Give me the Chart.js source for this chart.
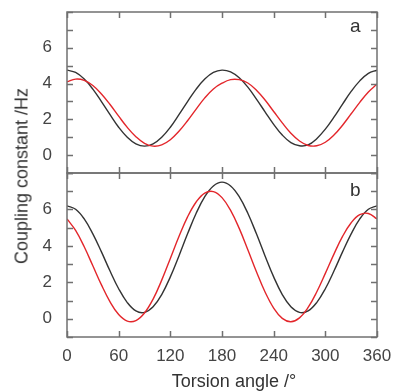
<!DOCTYPE html>
<html>
<head>
<meta charset="utf-8">
<script src="https://cdn.jsdelivr.net/npm/chart.js@4.4.1/dist/chart.umd.min.js"></script>
<style>
    body { margin: 0; background: #fff; }
    #wrap { position: relative; width: 393px; height: 392px; font-family: "Liberation Sans", Arial, sans-serif; }
    canvas { position: absolute; left: 0; }
    #chartA { top: 0; }
    #chartB { top: 160px; }
    .lbl { position: absolute; color: #333; font-size: 19px; line-height: 1; }
    #ytitle {
        position: absolute; left: 22px; top: 176px; color: #333; font-size: 18px;
        white-space: nowrap; transform: translate(-50%, -50%) rotate(-90deg);
    }
    #xtitle {
        position: absolute; left: 234px; top: 381px; color: #333; font-size: 18px;
        white-space: nowrap; transform: translate(-50%, -50%);
    }
</style>
</head>
<body>
<div id="wrap">
    <canvas id="chartA" width="393" height="180"></canvas>
    <canvas id="chartB" width="393" height="232"></canvas>
    <div class="lbl" style="left:350px; top:16px;">a</div>
    <div class="lbl" style="left:350px; top:180px;">b</div>
    <div id="ytitle">Coupling constant /Hz</div>
    <div id="xtitle">Torsion angle /°</div>
</div>
<script>
// Ángulos de torsión (grados)
const angles = [0, 10, 20, 30, 40, 50, 60, 70, 80, 90, 100, 110, 120, 130, 140, 150, 160, 170, 180,
    190, 200, 210, 220, 230, 240, 250, 260, 270, 280, 290, 300, 310, 320, 330, 340, 350, 360];

// Panel a
const blackA = [4.75, 4.62, 4.25, 3.69, 2.99, 2.26, 1.56, 1.00, 0.63, 0.50, 0.63, 1.00, 1.56, 2.26, 2.99, 3.69, 4.25, 4.62, 4.75,
    4.65, 4.32, 3.80, 3.13, 2.42, 1.72, 1.12, 0.70, 0.52, 0.57, 0.92, 1.45, 2.12, 2.85, 3.56, 4.15, 4.57, 4.75];
const redA = [4.09, 4.25, 4.18, 3.89, 3.42, 2.83, 2.18, 1.55, 1.03, 0.66, 0.50, 0.57, 0.86, 1.33, 1.92, 2.57, 3.20, 3.70, 4.02,
    4.22, 4.22, 4.03, 3.63, 3.08, 2.44, 1.80, 1.22, 0.79, 0.54, 0.52, 0.72, 1.12, 1.67, 2.31, 2.95, 3.53, 3.97];

// Panel b
const blackB = [6.20, 6.01, 5.48, 4.66, 3.67, 2.62, 1.65, 0.89, 0.43, 0.35, 0.66, 1.33, 2.30, 3.45, 4.66, 5.79, 6.70, 7.29, 7.50,
    7.29, 6.70, 5.79, 4.66, 3.45, 2.30, 1.33, 0.66, 0.35, 0.43, 0.89, 1.65, 2.62, 3.67, 4.66, 5.48, 6.01, 6.20];
const redB = [5.48, 4.85, 3.95, 2.91, 1.86, 0.93, 0.23, -0.13, -0.10, 0.32, 1.08, 2.12, 3.31, 4.51, 5.59, 6.41, 6.90, 6.98, 6.65,
    5.95, 4.96, 3.79, 2.58, 1.47, 0.59, 0.02, -0.16, 0.05, 0.62, 1.47, 2.49, 3.55, 4.52, 5.27, 5.71, 5.78, 5.48];

// Marcas de los ejes
const xTicks = [0, 60, 120, 180, 240, 300, 360];
const yTicks = [0, 2, 4, 6];
const yMinorTicks = [-1, 0, 1, 2, 3, 4, 5, 6, 7, 8];

const axisColor = "#707070";
const textColor = "#444";

// Marco y marcas hacia dentro
const framePlugin = {
    id: "frame",
    afterDraw(chart) {
        const { ctx, chartArea: { left, right, top, bottom }, scales: { x, y } } = chart;
        ctx.save();
        ctx.strokeStyle = axisColor;
        ctx.lineWidth = 1.5;
        ctx.strokeRect(left, top, right - left, bottom - top);
        ctx.beginPath();
        yMinorTicks.forEach(v => {
            const py = Math.round(y.getPixelForValue(v)) + 0.5;
            ctx.moveTo(left, py); ctx.lineTo(left + 6, py);
            ctx.moveTo(right - 6, py); ctx.lineTo(right, py);
        });
        xTicks.forEach(v => {
            const px = Math.round(x.getPixelForValue(v)) + 0.5;
            ctx.moveTo(px, top); ctx.lineTo(px, top + 6);
            ctx.moveTo(px, bottom - 6); ctx.lineTo(px, bottom);
        });
        ctx.stroke();
        ctx.restore();
    }
};

function makeChart(id, black, red, showX, padTop) {
    const ctx = document.getElementById(id).getContext("2d");
    return new Chart(ctx, {
        type: "line",
        data: {
            datasets: [
                { data: angles.map((a, i) => ({ x: a, y: red[i] })), borderColor: "#e3262b", borderWidth: 1.4 },
                { data: angles.map((a, i) => ({ x: a, y: black[i] })), borderColor: "#333", borderWidth: 1.4 }
            ]
        },
        options: {
            responsive: false,
            animation: false,
            devicePixelRatio: 1,
            layout: { padding: { top: padTop, right: 16, bottom: showX ? 0 : 7, left: 0 } },
            elements: { point: { radius: 0 }, line: { tension: 0.4, fill: false } },
            plugins: { legend: { display: false }, tooltip: { enabled: false } },
            scales: {
                x: {
                    type: "linear", min: 0, max: 360,
                    display: showX,
                    grid: { display: false },
                    border: { display: false },
                    afterBuildTicks: s => { s.ticks = xTicks.map(v => ({ value: v })); },
                    afterFit: s => {
                        s.height = showX ? 55 : 0;
                        s.paddingLeft = 0; s.paddingRight = 0;
                    },
                    ticks: { color: textColor, font: { size: 17, family: "'Liberation Sans', Arial" }, padding: 1, maxRotation: 0 }
                },
                y: {
                    min: -1, max: 8,
                    grid: { display: false },
                    border: { display: false },
                    afterBuildTicks: s => { s.ticks = yTicks.map(v => ({ value: v })); },
                    afterFit: s => {
                        s.width = 67;
                        s.paddingTop = 0; s.paddingBottom = 0;
                    },
                    ticks: { color: textColor, font: { size: 17, family: "'Liberation Sans', Arial" }, padding: 7 }
                }
            }
        },
        plugins: [framePlugin]
    });
}

window.onload = () => {
    makeChart("chartA", blackA, redA, false, 12);
    makeChart("chartB", blackB, redB, true, 13);
};
</script>
</body>
</html>
